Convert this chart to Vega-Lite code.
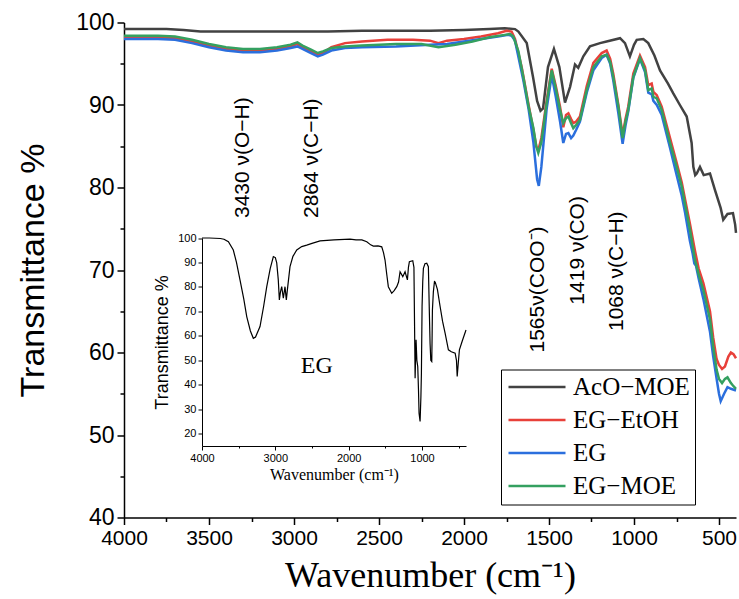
{
  "$schema": "https://vega.github.io/schema/vega-lite/v6.json",
  "width": 612,
  "height": 495,
  "autosize": {"type": "none"},
  "padding": {"left": 124, "top": 22.5, "right": 3, "bottom": 81.5},
  "config": {
    "view": {"stroke": null},
    "axis": {"grid": false, "labelFlush": false, "domainColor": "#000", "tickColor": "#000", "labelColor": "#000", "titleColor": "#000", "domainWidth": 1.5, "tickWidth": 1.5, "titleFontWeight": "normal"}
  },
  "datasets": {
    "main": [
      {"s":"AcO−MOE","w":4000,"t":99.2},{"s":"AcO−MOE","w":3900,"t":99.2},{"s":"AcO−MOE","w":3750,"t":99.2},{"s":"AcO−MOE","w":3650,"t":99.1},{"s":"AcO−MOE","w":3550,"t":98.9},{"s":"AcO−MOE","w":3400,"t":98.9},{"s":"AcO−MOE","w":3000,"t":98.9},{"s":"AcO−MOE","w":2800,"t":98.9},{"s":"AcO−MOE","w":2600,"t":99.0},{"s":"AcO−MOE","w":2400,"t":99.0},{"s":"AcO−MOE","w":2200,"t":99.0},{"s":"AcO−MOE","w":2000,"t":99.1},{"s":"AcO−MOE","w":1850,"t":99.2},{"s":"AcO−MOE","w":1760,"t":99.3},{"s":"AcO−MOE","w":1700,"t":99.2},{"s":"AcO−MOE","w":1680,"t":98.9},{"s":"AcO−MOE","w":1631,"t":97.5},{"s":"AcO−MOE","w":1594,"t":93.4},{"s":"AcO−MOE","w":1570,"t":90.5},{"s":"AcO−MOE","w":1550,"t":89.3},{"s":"AcO−MOE","w":1535,"t":89.6},{"s":"AcO−MOE","w":1506,"t":94.6},{"s":"AcO−MOE","w":1471,"t":96.8},{"s":"AcO−MOE","w":1439,"t":94.6},{"s":"AcO−MOE","w":1406,"t":90.3},{"s":"AcO−MOE","w":1376,"t":92.2},{"s":"AcO−MOE","w":1347,"t":94.9},{"s":"AcO−MOE","w":1328,"t":94.5},{"s":"AcO−MOE","w":1298,"t":95.9},{"s":"AcO−MOE","w":1259,"t":97.1},{"s":"AcO−MOE","w":1200,"t":97.5},{"s":"AcO−MOE","w":1161,"t":97.7},{"s":"AcO−MOE","w":1082,"t":98.1},{"s":"AcO−MOE","w":1053,"t":97.5},{"s":"AcO−MOE","w":1024,"t":95.9},{"s":"AcO−MOE","w":1000,"t":97.3},{"s":"AcO−MOE","w":984,"t":97.9},{"s":"AcO−MOE","w":945,"t":98.0},{"s":"AcO−MOE","w":916,"t":97.5},{"s":"AcO−MOE","w":880,"t":96.0},{"s":"AcO−MOE","w":847,"t":94.2},{"s":"AcO−MOE","w":800,"t":92.6},{"s":"AcO−MOE","w":769,"t":91.4},{"s":"AcO−MOE","w":730,"t":90.0},{"s":"AcO−MOE","w":690,"t":88.6},{"s":"AcO−MOE","w":661,"t":85.4},{"s":"AcO−MOE","w":651,"t":82.5},{"s":"AcO−MOE","w":640,"t":81.5},{"s":"AcO−MOE","w":631,"t":81.7},{"s":"AcO−MOE","w":612,"t":82.5},{"s":"AcO−MOE","w":590,"t":81.5},{"s":"AcO−MOE","w":553,"t":81.7},{"s":"AcO−MOE","w":524,"t":79.7},{"s":"AcO−MOE","w":490,"t":77.5},{"s":"AcO−MOE","w":475,"t":76.1},{"s":"AcO−MOE","w":450,"t":76.8},{"s":"AcO−MOE","w":418,"t":76.9},{"s":"AcO−MOE","w":405,"t":75.5},{"s":"AcO−MOE","w":400,"t":74.5},
      {"s":"EG−EtOH","w":4000,"t":98.2},{"s":"EG−EtOH","w":3800,"t":98.2},{"s":"EG−EtOH","w":3700,"t":98.1},{"s":"EG−EtOH","w":3600,"t":97.7},{"s":"EG−EtOH","w":3500,"t":97.2},{"s":"EG−EtOH","w":3400,"t":96.8},{"s":"EG−EtOH","w":3300,"t":96.6},{"s":"EG−EtOH","w":3200,"t":96.6},{"s":"EG−EtOH","w":3100,"t":96.8},{"s":"EG−EtOH","w":3020,"t":97.1},{"s":"EG−EtOH","w":2980,"t":97.4},{"s":"EG−EtOH","w":2950,"t":97.0},{"s":"EG−EtOH","w":2900,"t":96.5},{"s":"EG−EtOH","w":2860,"t":96.1},{"s":"EG−EtOH","w":2830,"t":96.3},{"s":"EG−EtOH","w":2780,"t":97.0},{"s":"EG−EtOH","w":2700,"t":97.5},{"s":"EG−EtOH","w":2600,"t":97.7},{"s":"EG−EtOH","w":2450,"t":97.9},{"s":"EG−EtOH","w":2300,"t":97.9},{"s":"EG−EtOH","w":2200,"t":97.8},{"s":"EG−EtOH","w":2150,"t":97.5},{"s":"EG−EtOH","w":2100,"t":97.8},{"s":"EG−EtOH","w":2000,"t":98.0},{"s":"EG−EtOH","w":1900,"t":98.3},{"s":"EG−EtOH","w":1800,"t":98.7},{"s":"EG−EtOH","w":1750,"t":99.0},{"s":"EG−EtOH","w":1720,"t":98.9},{"s":"EG−EtOH","w":1700,"t":98.0},{"s":"EG−EtOH","w":1660,"t":94.5},{"s":"EG−EtOH","w":1620,"t":90.0},{"s":"EG−EtOH","w":1592,"t":87.0},{"s":"EG−EtOH","w":1575,"t":85.0},{"s":"EG−EtOH","w":1563,"t":84.5},{"s":"EG−EtOH","w":1545,"t":86.0},{"s":"EG−EtOH","w":1514,"t":90.5},{"s":"EG−EtOH","w":1484,"t":94.4},{"s":"EG−EtOH","w":1460,"t":92.3},{"s":"EG−EtOH","w":1435,"t":89.8},{"s":"EG−EtOH","w":1416,"t":87.3},{"s":"EG−EtOH","w":1400,"t":88.8},{"s":"EG−EtOH","w":1386,"t":89.0},{"s":"EG−EtOH","w":1370,"t":88.3},{"s":"EG−EtOH","w":1357,"t":87.8},{"s":"EG−EtOH","w":1340,"t":88.0},{"s":"EG−EtOH","w":1318,"t":88.6},{"s":"EG−EtOH","w":1278,"t":92.3},{"s":"EG−EtOH","w":1239,"t":95.1},{"s":"EG−EtOH","w":1190,"t":96.3},{"s":"EG−EtOH","w":1161,"t":96.6},{"s":"EG−EtOH","w":1140,"t":95.6},{"s":"EG−EtOH","w":1122,"t":93.8},{"s":"EG−EtOH","w":1092,"t":90.0},{"s":"EG−EtOH","w":1067,"t":86.3},{"s":"EG−EtOH","w":1050,"t":88.3},{"s":"EG−EtOH","w":1034,"t":89.8},{"s":"EG−EtOH","w":1004,"t":93.8},{"s":"EG−EtOH","w":965,"t":96.0},{"s":"EG−EtOH","w":935,"t":94.6},{"s":"EG−EtOH","w":916,"t":92.4},{"s":"EG−EtOH","w":896,"t":92.6},{"s":"EG−EtOH","w":886,"t":91.6},{"s":"EG−EtOH","w":866,"t":91.2},{"s":"EG−EtOH","w":837,"t":89.8},{"s":"EG−EtOH","w":788,"t":86.0},{"s":"EG−EtOH","w":749,"t":83.0},{"s":"EG−EtOH","w":719,"t":80.6},{"s":"EG−EtOH","w":700,"t":78.6},{"s":"EG−EtOH","w":671,"t":75.6},{"s":"EG−EtOH","w":641,"t":72.3},{"s":"EG−EtOH","w":620,"t":70.2},{"s":"EG−EtOH","w":592,"t":68.4},{"s":"EG−EtOH","w":553,"t":65.0},{"s":"EG−EtOH","w":534,"t":61.8},{"s":"EG−EtOH","w":514,"t":59.2},{"s":"EG−EtOH","w":500,"t":58.5},{"s":"EG−EtOH","w":482,"t":58.0},{"s":"EG−EtOH","w":465,"t":58.3},{"s":"EG−EtOH","w":445,"t":59.5},{"s":"EG−EtOH","w":430,"t":60.0},{"s":"EG−EtOH","w":415,"t":59.8},{"s":"EG−EtOH","w":400,"t":59.3},
      {"s":"EG","w":4000,"t":98.0},{"s":"EG","w":3800,"t":98.0},{"s":"EG","w":3700,"t":97.9},{"s":"EG","w":3600,"t":97.5},{"s":"EG","w":3500,"t":97.0},{"s":"EG","w":3400,"t":96.6},{"s":"EG","w":3300,"t":96.4},{"s":"EG","w":3200,"t":96.4},{"s":"EG","w":3100,"t":96.6},{"s":"EG","w":3020,"t":96.9},{"s":"EG","w":2980,"t":97.1},{"s":"EG","w":2950,"t":96.8},{"s":"EG","w":2900,"t":96.3},{"s":"EG","w":2860,"t":95.9},{"s":"EG","w":2830,"t":96.1},{"s":"EG","w":2780,"t":96.6},{"s":"EG","w":2700,"t":96.9},{"s":"EG","w":2600,"t":97.0},{"s":"EG","w":2400,"t":97.1},{"s":"EG","w":2200,"t":97.3},{"s":"EG","w":2100,"t":97.4},{"s":"EG","w":2000,"t":97.7},{"s":"EG","w":1900,"t":98.0},{"s":"EG","w":1800,"t":98.3},{"s":"EG","w":1740,"t":98.5},{"s":"EG","w":1720,"t":98.4},{"s":"EG","w":1700,"t":97.8},{"s":"EG","w":1651,"t":93.0},{"s":"EG","w":1620,"t":89.5},{"s":"EG","w":1592,"t":85.5},{"s":"EG","w":1570,"t":81.0},{"s":"EG","w":1560,"t":80.2},{"s":"EG","w":1545,"t":82.5},{"s":"EG","w":1514,"t":89.5},{"s":"EG","w":1484,"t":93.6},{"s":"EG","w":1460,"t":91.0},{"s":"EG","w":1435,"t":88.0},{"s":"EG","w":1416,"t":85.4},{"s":"EG","w":1400,"t":86.5},{"s":"EG","w":1386,"t":86.6},{"s":"EG","w":1370,"t":86.0},{"s":"EG","w":1357,"t":86.3},{"s":"EG","w":1340,"t":87.0},{"s":"EG","w":1318,"t":88.0},{"s":"EG","w":1278,"t":91.5},{"s":"EG","w":1239,"t":94.2},{"s":"EG","w":1190,"t":95.7},{"s":"EG","w":1161,"t":96.1},{"s":"EG","w":1140,"t":95.0},{"s":"EG","w":1122,"t":93.0},{"s":"EG","w":1092,"t":89.0},{"s":"EG","w":1067,"t":85.3},{"s":"EG","w":1050,"t":87.5},{"s":"EG","w":1034,"t":89.2},{"s":"EG","w":1004,"t":93.3},{"s":"EG","w":965,"t":95.6},{"s":"EG","w":935,"t":94.0},{"s":"EG","w":916,"t":91.5},{"s":"EG","w":896,"t":91.3},{"s":"EG","w":886,"t":90.5},{"s":"EG","w":866,"t":90.0},{"s":"EG","w":837,"t":88.8},{"s":"EG","w":788,"t":84.8},{"s":"EG","w":749,"t":81.5},{"s":"EG","w":719,"t":79.0},{"s":"EG","w":700,"t":77.0},{"s":"EG","w":671,"t":73.5},{"s":"EG","w":655,"t":72.0},{"s":"EG","w":645,"t":70.8},{"s":"EG","w":635,"t":70.5},{"s":"EG","w":620,"t":69.0},{"s":"EG","w":592,"t":66.5},{"s":"EG","w":553,"t":62.5},{"s":"EG","w":534,"t":59.5},{"s":"EG","w":514,"t":56.8},{"s":"EG","w":500,"t":55.0},{"s":"EG","w":490,"t":54.1},{"s":"EG","w":470,"t":55.0},{"s":"EG","w":450,"t":55.8},{"s":"EG","w":430,"t":55.6},{"s":"EG","w":400,"t":55.4},
      {"s":"EG−MOE","w":4000,"t":98.4},{"s":"EG−MOE","w":3800,"t":98.4},{"s":"EG−MOE","w":3700,"t":98.3},{"s":"EG−MOE","w":3600,"t":97.9},{"s":"EG−MOE","w":3500,"t":97.4},{"s":"EG−MOE","w":3400,"t":97.0},{"s":"EG−MOE","w":3300,"t":96.8},{"s":"EG−MOE","w":3200,"t":96.8},{"s":"EG−MOE","w":3100,"t":97.0},{"s":"EG−MOE","w":3020,"t":97.3},{"s":"EG−MOE","w":2980,"t":97.6},{"s":"EG−MOE","w":2950,"t":97.2},{"s":"EG−MOE","w":2900,"t":96.7},{"s":"EG−MOE","w":2860,"t":96.3},{"s":"EG−MOE","w":2830,"t":96.5},{"s":"EG−MOE","w":2780,"t":96.9},{"s":"EG−MOE","w":2700,"t":97.1},{"s":"EG−MOE","w":2600,"t":97.2},{"s":"EG−MOE","w":2400,"t":97.4},{"s":"EG−MOE","w":2250,"t":97.4},{"s":"EG−MOE","w":2150,"t":97.0},{"s":"EG−MOE","w":2050,"t":97.3},{"s":"EG−MOE","w":1950,"t":97.7},{"s":"EG−MOE","w":1850,"t":98.2},{"s":"EG−MOE","w":1760,"t":98.5},{"s":"EG−MOE","w":1729,"t":98.6},{"s":"EG−MOE","w":1710,"t":98.3},{"s":"EG−MOE","w":1680,"t":96.5},{"s":"EG−MOE","w":1651,"t":93.4},{"s":"EG−MOE","w":1620,"t":89.8},{"s":"EG−MOE","w":1592,"t":87.2},{"s":"EG−MOE","w":1575,"t":85.0},{"s":"EG−MOE","w":1563,"t":84.2},{"s":"EG−MOE","w":1545,"t":85.5},{"s":"EG−MOE","w":1514,"t":90.2},{"s":"EG−MOE","w":1484,"t":94.2},{"s":"EG−MOE","w":1460,"t":92.0},{"s":"EG−MOE","w":1435,"t":89.4},{"s":"EG−MOE","w":1416,"t":87.8},{"s":"EG−MOE","w":1400,"t":88.4},{"s":"EG−MOE","w":1386,"t":88.6},{"s":"EG−MOE","w":1370,"t":87.8},{"s":"EG−MOE","w":1357,"t":87.2},{"s":"EG−MOE","w":1340,"t":87.6},{"s":"EG−MOE","w":1318,"t":88.2},{"s":"EG−MOE","w":1278,"t":91.8},{"s":"EG−MOE","w":1239,"t":94.6},{"s":"EG−MOE","w":1190,"t":95.9},{"s":"EG−MOE","w":1161,"t":96.1},{"s":"EG−MOE","w":1140,"t":95.2},{"s":"EG−MOE","w":1122,"t":93.4},{"s":"EG−MOE","w":1092,"t":89.8},{"s":"EG−MOE","w":1067,"t":86.0},{"s":"EG−MOE","w":1050,"t":88.0},{"s":"EG−MOE","w":1034,"t":89.4},{"s":"EG−MOE","w":1004,"t":93.4},{"s":"EG−MOE","w":965,"t":95.7},{"s":"EG−MOE","w":935,"t":94.2},{"s":"EG−MOE","w":916,"t":91.8},{"s":"EG−MOE","w":896,"t":92.0},{"s":"EG−MOE","w":886,"t":91.0},{"s":"EG−MOE","w":866,"t":90.8},{"s":"EG−MOE","w":837,"t":89.4},{"s":"EG−MOE","w":788,"t":85.4},{"s":"EG−MOE","w":749,"t":82.5},{"s":"EG−MOE","w":719,"t":80.1},{"s":"EG−MOE","w":700,"t":78.0},{"s":"EG−MOE","w":671,"t":74.9},{"s":"EG−MOE","w":641,"t":71.2},{"s":"EG−MOE","w":620,"t":69.5},{"s":"EG−MOE","w":592,"t":67.6},{"s":"EG−MOE","w":553,"t":64.0},{"s":"EG−MOE","w":534,"t":60.7},{"s":"EG−MOE","w":514,"t":57.9},{"s":"EG−MOE","w":500,"t":56.8},{"s":"EG−MOE","w":482,"t":56.3},{"s":"EG−MOE","w":465,"t":56.8},{"s":"EG−MOE","w":450,"t":57.0},{"s":"EG−MOE","w":430,"t":56.3},{"s":"EG−MOE","w":418,"t":56.0},{"s":"EG−MOE","w":400,"t":55.6}
    ],
    "notes": [
      {"w":3300,"t":76.3,"label":"3430 ν(O−H)"},
      {"w":2894,"t":76.3,"label":"2864 ν(C−H)"},
      {"w":1565,"t":60.0,"label":"1565ν(COO⁻)"},
      {"w":1330,"t":65.8,"label":"1419 ν(CO)"},
      {"w":1102,"t":62.6,"label":"1068 ν(C−H)"}
    ],
    "inset": [
      {"w":4000,"t":100},{"w":3900,"t":100},{"w":3750,"t":99.8},{"w":3700,"t":99.5},{"w":3640,"t":98.5},{"w":3573,"t":95.1},{"w":3530,"t":90},{"w":3482,"t":82.9},{"w":3430,"t":75},{"w":3390,"t":67.9},{"w":3340,"t":62},{"w":3300,"t":59.0},{"w":3270,"t":59.5},{"w":3209,"t":63.8},{"w":3160,"t":72},{"w":3117,"t":80.1},{"w":3070,"t":87.5},{"w":3027,"t":92.4},{"w":3000,"t":92.0},{"w":2981,"t":89.8},{"w":2960,"t":83},{"w":2945,"t":74.7},{"w":2930,"t":78},{"w":2913,"t":80.1},{"w":2891,"t":75.4},{"w":2868,"t":80.1},{"w":2850,"t":74.7},{"w":2835,"t":79},{"w":2800,"t":88.3},{"w":2760,"t":92.5},{"w":2708,"t":95.1},{"w":2640,"t":96.5},{"w":2572,"t":97.1},{"w":2500,"t":97.8},{"w":2390,"t":98.8},{"w":2200,"t":99.2},{"w":1981,"t":99.5},{"w":1900,"t":99.2},{"w":1820,"t":99.2},{"w":1753,"t":98.5},{"w":1700,"t":97.2},{"w":1663,"t":96.7},{"w":1600,"t":96.8},{"w":1549,"t":96.4},{"w":1525,"t":94},{"w":1504,"t":91.0},{"w":1480,"t":85},{"w":1459,"t":80.1},{"w":1413,"t":77.4},{"w":1380,"t":78.5},{"w":1344,"t":80.1},{"w":1320,"t":82},{"w":1299,"t":86.2},{"w":1262,"t":84.2},{"w":1231,"t":86.2},{"w":1199,"t":82.9},{"w":1185,"t":88},{"w":1172,"t":90.3},{"w":1126,"t":90.7},{"w":1110,"t":88},{"w":1100,"t":60},{"w":1094,"t":42.7},{"w":1081,"t":58.4},{"w":1070,"t":50},{"w":1058,"t":47.5},{"w":1048,"t":38},{"w":1040,"t":28.4},{"w":1030,"t":26},{"w":1026,"t":25.0},{"w":1015,"t":35},{"w":1008,"t":44.8},{"w":999,"t":72},{"w":990,"t":82},{"w":981,"t":87.6},{"w":960,"t":89.5},{"w":935,"t":89.7},{"w":913,"t":88.3},{"w":900,"t":70},{"w":890,"t":57.0},{"w":880,"t":50},{"w":867,"t":49.5},{"w":862,"t":60},{"w":858,"t":70.6},{"w":845,"t":78},{"w":830,"t":82.2},{"w":820,"t":82},{"w":790,"t":79},{"w":753,"t":72.0},{"w":720,"t":66},{"w":685,"t":61.1},{"w":640,"t":54.3},{"w":600,"t":53.5},{"w":548,"t":52.9},{"w":530,"t":50},{"w":520,"t":43.4},{"w":505,"t":49},{"w":490,"t":54.3},{"w":450,"t":58},{"w":400,"t":62.4}
    ],
    "insetNote": [{"w":2435,"t":47.8,"label":"EG"}]
  },
  "layer": [
    {
      "layer": [
        {
          "data": {"name": "main"},
          "mark": {"type": "line", "strokeWidth": 2.5, "interpolate": "linear"},
          "encoding": {
            "x": {"field": "w", "type": "quantitative",
              "scale": {"domain": [400, 4000], "reverse": true, "nice": false, "zero": false},
              "axis": {"title": "Wavenumber (cm⁻¹)", "titleFont": "Liberation Serif", "titleFontSize": 36, "titlePadding": 10,
                "labelFont": "Liberation Sans", "labelFontSize": 21, "labelPadding": 3,
                "values": [4000,3750,3500,3250,3000,2750,2500,2250,2000,1750,1500,1250,1000,750,500],
                "format": "d",
                "labelExpr": "datum.value % 500 === 0 ? datum.label : ''",
                "tickSize": {"condition": {"test": "datum.value % 500 === 0", "value": 7}, "value": 4}}},
            "y": {"field": "t", "type": "quantitative",
              "scale": {"domain": [40, 100], "nice": false, "zero": false},
              "axis": {"title": "Transmittance %", "titleFont": "Liberation Sans", "titleFontSize": 34, "titlePadding": 25,
                "labelFont": "Liberation Sans", "labelFontSize": 23, "labelPadding": 3,
                "values": [40,45,50,55,60,65,70,75,80,85,90,95,100],
                "labelExpr": "datum.value % 10 === 0 ? datum.label : ''",
                "tickSize": {"condition": {"test": "datum.value % 10 === 0", "value": 7}, "value": 4}}},
            "color": {"field": "s", "type": "nominal",
              "scale": {"domain": ["AcO−MOE","EG−EtOH","EG","EG−MOE"], "range": ["#424242","#e8403a","#2b6fdd","#34a060"]},
              "legend": {"title": null, "orient": "none", "legendX": 377, "legendY": 347,
                "strokeColor": "#000", "padding": 5, "rowPadding": 7,
                "labelFont": "Liberation Serif", "labelFontSize": 25, "labelColor": "#000",
                "symbolType": "M-1,0H4.7", "symbolSize": 400, "symbolStrokeWidth": 2.5, "labelOffset": 42}}
          }
        },
        {
          "data": {"name": "notes"},
          "mark": {"type": "text", "angle": 270, "align": "left", "baseline": "middle", "font": "Liberation Sans", "fontSize": 21, "color": "#000"},
          "encoding": {
            "x": {"field": "w", "type": "quantitative"},
            "y": {"field": "t", "type": "quantitative"},
            "text": {"field": "label"}
          }
        }
      ]
    },
    {
      "layer": [
        {
          "data": {"name": "inset"},
          "mark": {"type": "line", "strokeWidth": 1.2, "color": "#000"},
          "encoding": {
            "x": {"field": "w", "type": "quantitative",
              "scale": {"domain": [400, 4000], "range": [342, 78], "nice": false, "zero": false},
              "axis": {"orient": "bottom", "offset": -71.5, "title": "Wavenumber (cm⁻¹)", "titleFont": "Liberation Serif", "titleFontSize": 16, "titlePadding": 3,
                "labelFont": "Liberation Sans", "labelFontSize": 11, "labelPadding": 2, "domainWidth": 1, "tickWidth": 1,
                "values": [4000,3500,3000,2500,2000,1500,1000,500], "format": "d",
                "labelExpr": "datum.value % 1000 === 0 ? datum.label : ''",
                "tickSize": {"condition": {"test": "datum.value % 1000 === 0", "value": 4}, "value": 2}}},
            "y": {"field": "t", "type": "quantitative",
              "scale": {"domain": [15, 100], "range": [423.5, 215.5], "nice": false, "zero": false},
              "axis": {"orient": "left", "offset": -78, "title": "Transmittance %", "titleFont": "Liberation Sans", "titleFontSize": 18, "titlePadding": 6,
                "labelFont": "Liberation Sans", "labelFontSize": 11, "labelPadding": 2, "domainWidth": 1, "tickWidth": 1,
                "values": [20,25,30,35,40,45,50,55,60,65,70,75,80,85,90,95,100],
                "labelExpr": "datum.value % 10 === 0 ? datum.label : ''",
                "tickSize": {"condition": {"test": "datum.value % 10 === 0", "value": 4}, "value": 2}}}
          }
        },
        {
          "data": {"name": "insetNote"},
          "mark": {"type": "text", "font": "Liberation Serif", "fontSize": 24, "align": "center", "baseline": "middle", "color": "#000"},
          "encoding": {
            "x": {"field": "w", "type": "quantitative"},
            "y": {"field": "t", "type": "quantitative"},
            "text": {"field": "label"}
          }
        }
      ]
    }
  ],
  "resolve": {"scale": {"x": "independent", "y": "independent"}, "axis": {"x": "independent", "y": "independent"}}
}
